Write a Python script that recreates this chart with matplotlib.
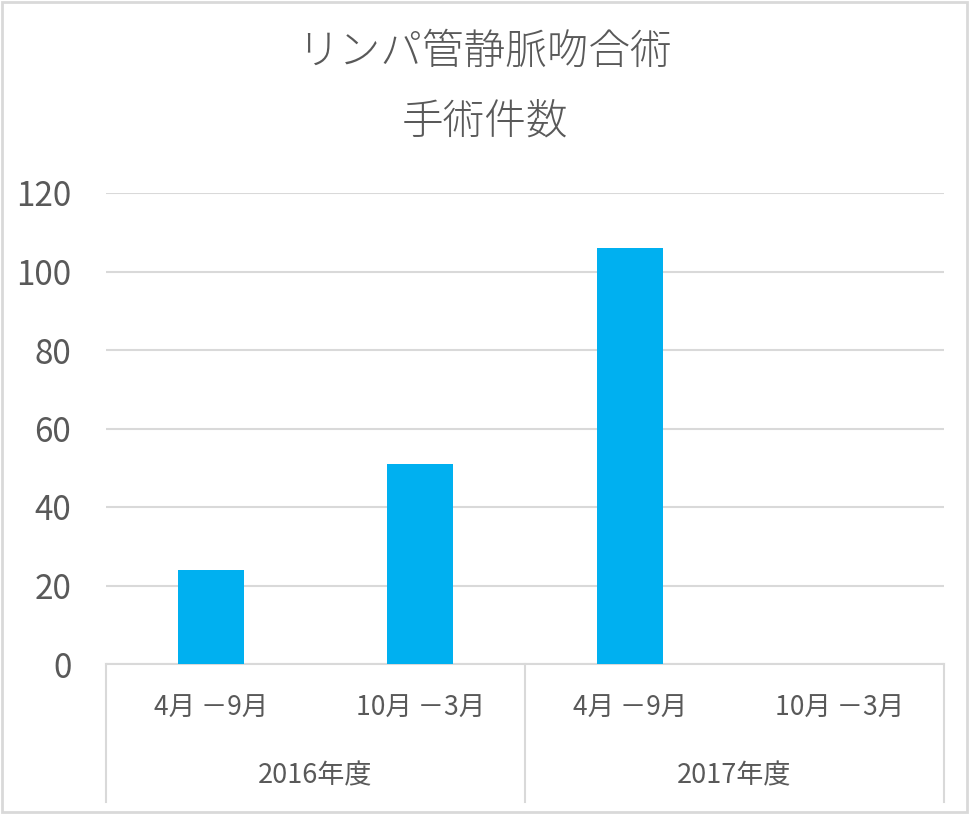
import matplotlib.pyplot as plt
from matplotlib.patches import Rectangle

plt.rcParams['font.family'] = ['Noto Sans CJK JP', 'DejaVu Sans']

# データ
periods = ["4月 －9月", "10月 －3月", "4月 －9月", "10月 －3月"]
years = ["2016年度", "2017年度"]
counts = [24, 51, 106, 0]
yticks = [0, 20, 40, 60, 80, 100, 120]

text_col = "#595959"
grid_col = "#D9D9D9"
bar_col = "#00B0F0"

fig = plt.figure(figsize=(9.69, 8.14), dpi=100)
W, H = 969, 814
ax = fig.add_axes([106 / W, (H - 664) / H, (944 - 106) / W, (664 - 193) / H])

x = list(range(len(counts)))
ax.bar(x, counts, width=0.315, color=bar_col, zorder=3)

ax.set_xlim(-0.5, len(counts) - 0.5)
ax.set_ylim(0, 120)
ax.set_yticks(yticks)
ax.set_yticklabels([str(v) for v in yticks], fontsize=24, color=text_col)
ax.tick_params(axis='y', length=0, pad=25)
ax.set_xticks([])
ax.yaxis.grid(True, color=grid_col, linewidth=1.5, zorder=0)
for s in ['top', 'right', 'left']:
    ax.spines[s].set_visible(False)
ax.spines['bottom'].set_color(grid_col)
ax.spines['bottom'].set_linewidth(1.5)

# 2段のカテゴリ軸
for i, lab in enumerate(periods):
    ax.text(i, -0.0934, lab, transform=ax.get_xaxis_transform(), ha='center', va='center',
            fontsize=19, color=text_col)
per_group = len(periods) // len(years)
for g, yr in enumerate(years):
    xc = g * per_group + (per_group - 1) / 2
    ax.text(xc, -0.238, yr, transform=ax.get_xaxis_transform(), ha='center', va='center',
            fontsize=19.5, color=text_col)
for g in range(len(years) + 1):
    xb = g * per_group - 0.5
    ax.plot([xb, xb], [0, -0.293], transform=ax.get_xaxis_transform(), color=grid_col,
            linewidth=1.5, clip_on=False)

# タイトル
fig.text(0.5, 1 - 52 / H, "リンパ管静脈吻合術", ha='center', va='center', fontsize=30,
         color=text_col, fontweight='light')
fig.text(0.5, 1 - 122 / H, "手術件数", ha='center', va='center', fontsize=30,
         color=text_col, fontweight='light')

# 外枠
fig.patches.append(Rectangle((0.002, 0.002), 0.996, 0.996, transform=fig.transFigure,
                             fill=False, edgecolor=grid_col, linewidth=2))

fig.savefig("out.png", dpi=100)
